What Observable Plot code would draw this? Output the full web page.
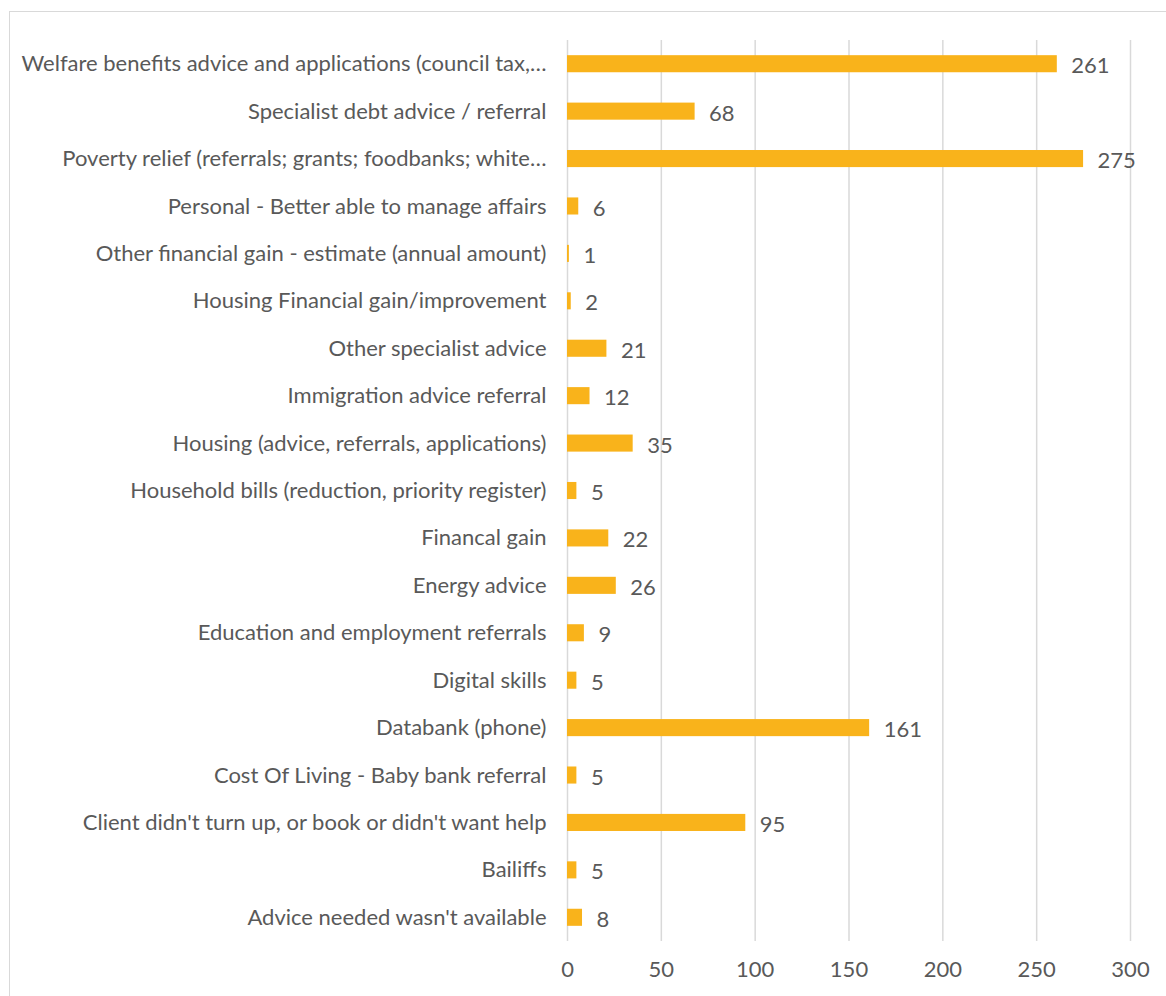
<!DOCTYPE html>
<html>
<head>
<meta charset="utf-8">
<script src="https://cdn.jsdelivr.net/npm/d3@7"></script>
<script src="https://cdn.jsdelivr.net/npm/@observablehq/plot@0.6"></script>
<style>
  body { margin: 0; background: #fff; }
  #wrap { position: relative; width: 1166px; height: 996px; }
  #frame { position: absolute; left: 9px; top: 11px; width: 1170px; height: 1000px; border: 1px solid #d9d9d9; box-sizing: border-box; pointer-events: none; }
  #chart { position: absolute; left: 0; top: 0; }
</style>
</head>
<body>
<div id="wrap"><div id="frame"></div><div id="chart"></div></div>
<script>
const categories = [
  "Welfare benefits advice and applications (council tax,…",
  "Specialist debt advice / referral",
  "Poverty relief (referrals; grants; foodbanks; white…",
  "Personal - Better able to manage affairs",
  "Other financial gain - estimate (annual amount)",
  "Housing Financial gain/improvement",
  "Other specialist advice",
  "Immigration advice referral",
  "Housing (advice, referrals, applications)",
  "Household bills (reduction, priority register)",
  "Financal gain",
  "Energy advice",
  "Education and employment referrals",
  "Digital skills",
  "Databank (phone)",
  "Cost Of Living - Baby bank referral",
  "Client didn't turn up, or book or didn't want help",
  "Bailiffs",
  "Advice needed wasn't available"
];
const values = [261, 68, 275, 6, 1, 2, 21, 12, 35, 5, 22, 26, 9, 5, 161, 5, 95, 5, 8];
const xTicks = [0, 50, 100, 150, 200, 250, 300];

const data = categories.map((c, i) => ({category: c, value: values[i]}));

const chart = Plot.plot({
  width: 1166,
  height: 996,
  marginLeft: 567,
  marginRight: 36,
  marginTop: 40,
  marginBottom: 55,
  style: {fontFamily: "Lato, 'Open Sans', sans-serif", fontSize: "22px", color: "#595959", background: "transparent"},
  x: {domain: [0, 300], ticks: xTicks, label: null},
  y: {domain: categories, label: null, paddingInner: 0.64, paddingOuter: 0.32, round: false},
  marks: [
    Plot.gridX(xTicks, {stroke: "#d9d9d9", strokeOpacity: 1, strokeWidth: 1.5}),
    Plot.barX(data, {x: "value", y: "category", fill: "#F9B31B"}),
    Plot.text(data, {x: "value", y: "category", text: d => String(d.value), textAnchor: "start", dx: 14, dy: 2, fill: "#595959", fontSize: 22}),
    Plot.axisX({ticks: xTicks, tickSize: 0, tickPadding: 20, fontSize: 22, fill: "#595959", label: null}),
    Plot.axisY({tickSize: 0, tickPadding: 21, fontSize: 22, fill: "#595959", label: null, textOverflow: null})
  ]
});
document.getElementById("chart").appendChild(chart);
</script>
</body>
</html>
